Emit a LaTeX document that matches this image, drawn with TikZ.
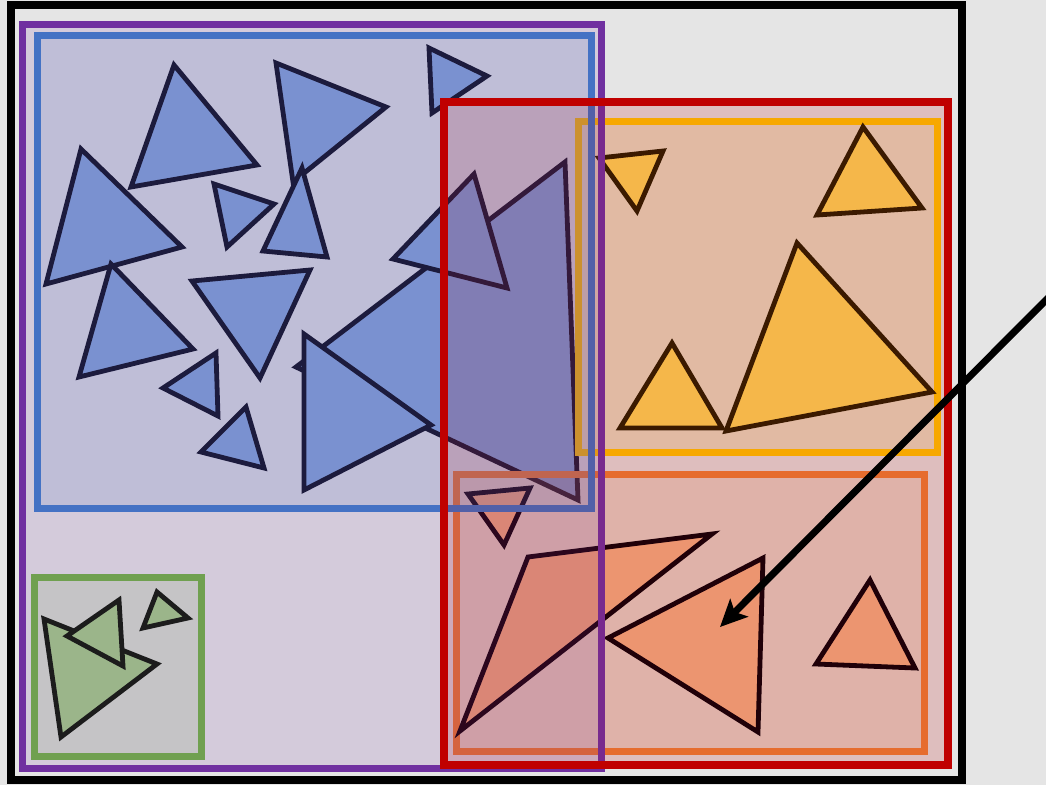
\documentclass[tikz,border=0pt]{standalone}
\usetikzlibrary{arrows.meta}
\definecolor{bgc}{RGB}{229,229,229}
\definecolor{purpleC}{RGB}{112,48,160}
\definecolor{purpleT}{RGB}{120,42,142}
\definecolor{blueC}{RGB}{68,114,196}
\definecolor{blueT}{RGB}{82,96,168}
\definecolor{redC}{RGB}{192,0,0}
\definecolor{orangeC}{RGB}{247,168,0}
\definecolor{orredC}{RGB}{230,108,46}
\definecolor{greenC}{RGB}{112,160,80}
\definecolor{btfill}{RGB}{136,169,219}
\definecolor{btline}{RGB}{8,8,20}
\definecolor{otfill}{RGB}{245,183,74}
\definecolor{otline}{RGB}{59,26,0}
\definecolor{rtfill}{RGB}{236,149,112}
\definecolor{rtline}{RGB}{32,0,8}
\definecolor{gtfill}{RGB}{155,181,138}
\definecolor{gtline}{RGB}{28,28,28}
\tikzset{
  btri/.style={fill=btfill, draw=btline, line width=4.8pt},
  otri/.style={fill=otfill, draw=otline, line width=4.8pt},
  rtri/.style={fill=rtfill, draw=rtline, line width=4.8pt},
  gtri/.style={fill=gtfill, draw=gtline, line width=4.8pt},
  rectline/.style={line width=7pt},
}
\begin{document}
\begin{tikzpicture}[x=1pt,y=-1pt]
\useasboundingbox (0,0) rectangle (1046,785);
\clip (0,0) rectangle (1046,785);
\fill[bgc] (0,0) rectangle (1046,785);
% blue triangles
\draw[btri] (174,65) -- (257,165) -- (131,187) -- cycle;
\draw[btri] (81,149) -- (182,247) -- (46,284) -- cycle;
\draw[btri] (276,63) -- (386,107) -- (293,182) -- cycle;
\draw[btri] (214,184) -- (274,204) -- (227,247) -- cycle;
\draw[btri] (302,168) -- (327,257) -- (263,251) -- cycle;
\draw[btri] (429,48) -- (487,76) -- (432,113) -- cycle;
\draw[btri] (565,162) -- (578,500) -- (296,367) -- cycle;
\draw[btri] (474,174) -- (507,288) -- (393,259) -- cycle;
\draw[btri] (304,334) -- (431,425) -- (304,490) -- cycle;
\draw[btri] (192,281) -- (310,270) -- (260,378) -- cycle;
\draw[btri] (111,264) -- (193,349) -- (79,377) -- cycle;
\draw[btri] (216,353) -- (218,416) -- (163,388) -- cycle;
\draw[btri] (246,407) -- (264,468) -- (201,452) -- cycle;
% red node fill
\fill[redC, opacity=0.17] (444,102) rectangle (948,765);
% orange leaf
\fill[orangeC, opacity=0.14] (578,121) rectangle (937,452);
\draw[orangeC, rectline] (578,121) rectangle (937,452);
\draw[otri] (599,158) -- (663,151) -- (637,211) -- cycle;
\draw[otri] (863,127) -- (922,208) -- (817,215) -- cycle;
\draw[otri] (672,343) -- (722,428) -- (620,428) -- cycle;
\draw[otri] (797,243) -- (932,392) -- (726,431) -- cycle;
% orange-red leaf
\fill[orredC, opacity=0.14] (456,474) rectangle (924,751);
\draw[orredC, rectline] (456,474) rectangle (924,751);
\draw[rtri] (468,494) -- (530,488) -- (504,545) -- cycle;
\draw[rtri] (460,731) -- (528,557) -- (712,534) -- cycle;
\draw[rtri] (608,638) -- (763,558) -- (758,732) -- cycle;
\draw[rtri] (870,580) -- (915,668) -- (816,664) -- cycle;
% purple and blue fills
\fill[purpleC, opacity=0.14] (22,24) rectangle (601,768);
\fill[blueC, opacity=0.14] (37,35) rectangle (591,508);
% green leaf
\fill[greenC, opacity=0.15] (34,577) rectangle (201,756);
\draw[greenC, rectline] (34,577) rectangle (201,756);
\draw[gtri] (44,619) -- (157,664) -- (61,737) -- cycle;
\draw[gtri] (119,600) -- (123,666) -- (67,636) -- cycle;
\draw[gtri] (157,592) -- (188,618) -- (143,628) -- cycle;
% strokes of blue and purple
\draw[blueC, rectline] (37,35) rectangle (591,508);
\draw[purpleC, rectline] (22,24) rectangle (601,768);
\begin{scope}
\clip (444,102) rectangle (948,765);
\draw[blueT, rectline] (37,35) rectangle (591,508);
\draw[purpleT, rectline] (22,24) rectangle (601,768);
\end{scope}
% red and black strokes
\draw[redC, line width=8pt] (444,102) rectangle (948,765);
\draw[black, line width=8pt] (11,5) rectangle (962,780);
% arrow
\coordinate (arrowstart) at (1052,294);
\coordinate (arrowend) at (720,627);
\draw[black, line width=7pt, -{Stealth[length=27pt,width=25pt,inset=6pt]}] (arrowstart) -- (arrowend);
\end{tikzpicture}
\end{document}
